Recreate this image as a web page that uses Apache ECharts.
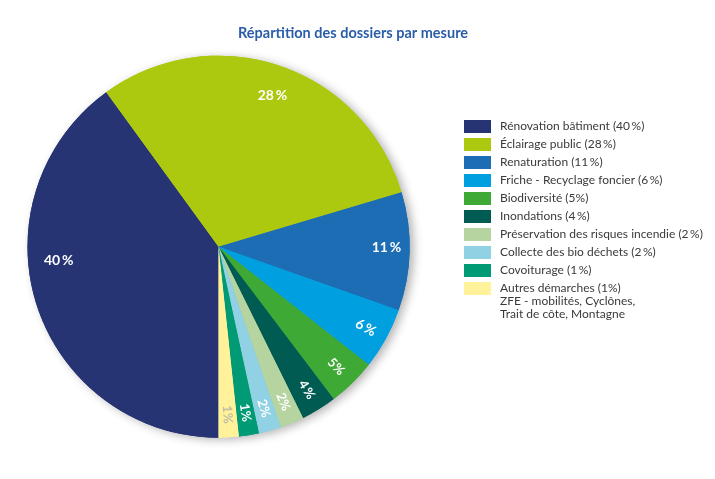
<!DOCTYPE html>
<html>
<head>
<meta charset="utf-8">
<script src="https://cdn.jsdelivr.net/npm/echarts@6/dist/echarts.min.js"></script>
<style>html,body{margin:0;padding:0;background:#fff;}#c{width:715px;height:479px;}</style>
</head>
<body>
<div id="c"></div>
<script>
const categories = ['Rénovation bâtiment', 'Éclairage public', 'Renaturation', 'Friche - Recyclage foncier', 'Biodiversité', 'Inondations', 'Préservation des risques incendie', 'Collecte des bio déchets', 'Covoiturage', 'Autres démarches'];
const values = [40, 30.4, 10, 5.2, 4.1, 3.0, 2.0, 1.9, 1.7, 1.7];
const pieLabels = ['40\u2009%', '28\u2009%', '11\u2009%', '6\u2009%', '5%', '4\u2009%', '2%', '2%', '1%', '1%'];
const legendPercents = ['40\u2009%', '28\u2009%', '11\u2009%', '6\u2009%', '5%', '4\u2009%', '2\u2009%', '2\u2009%', '1\u2009%', '1%'];
const colors = ['#263474', '#adc90f', '#1d6db5', '#009fe0', '#3eaa35', '#005b53', '#b5d4a0', '#90d1e3', '#009b74', '#fff29a'];
const labelColors = ['#fff', '#fff', '#fff', '#fff', '#fff', '#fff', '#fff', '#fff', '#fff', '#c2bfa6'];
const radialLabel = [false, false, false, true, true, true, true, true, true, true];
// vertical nudge of a label (negative = up), done with an empty rich-text spacer line
const labelNudge = [-38, 8, -3, 0, 0, 0, 0, 0, 0, 0];
const autresNote = 'ZFE - mobilités, Cyclônes,\nTrait de côte, Montagne';

const FONT = 'Lato, "Open Sans", sans-serif';
const chart = echarts.init(document.getElementById('c'));
const center = [218.5, 246.7];

const baseData = categories.map((n, i) => ({ name: n, value: values[i], itemStyle: { color: colors[i] } }));
const legendMap = {};
categories.forEach((n, i) => legendMap[n] = n + ' (' + legendPercents[i] + ')');

function labelText(i) {
  const n = labelNudge[i];
  if (n < 0) return '{t|' + pieLabels[i] + '}\n{s|\u00a0}';
  if (n > 0) return '{s|\u00a0}\n{t|' + pieLabels[i] + '}';
  return '{t|' + pieLabels[i] + '}';
}

chart.setOption({
  animation: false,
  color: colors,
  title: [
    { text: 'Répartition des dossiers par mesure', left: 238, top: 26, padding: 0,
      textStyle: { fontFamily: FONT, fontSize: 14.5, fontWeight: 'bold', color: '#2a5ea8' } },
    { text: autresNote, left: 500, top: 295, padding: 0,
      textStyle: { fontFamily: FONT, fontSize: 12, fontWeight: 'normal', color: '#3a3a3a', lineHeight: 13 } }
  ],
  legend: {
    orient: 'vertical', left: 464, top: 120, padding: 0,
    itemWidth: 27, itemHeight: 13, itemGap: 5,
    icon: 'rect',
    data: categories,
    formatter: n => legendMap[n],
    textStyle: { fontFamily: FONT, fontSize: 12, color: '#3a3a3a', padding: [0, 0, 0, 4] }
  },
  series: [
    {
      type: 'pie', silent: true, z: 1,
      center: center, radius: 191, startAngle: -90, clockwise: true,
      label: { show: false }, labelLine: { show: false },
      itemStyle: { shadowBlur: 10, shadowColor: 'rgba(0,0,0,0.3)', shadowOffsetX: 4, shadowOffsetY: 2 },
      data: baseData
    },
    {
      type: 'pie', silent: true, z: 2,
      center: center, radius: 191, startAngle: -90, clockwise: true,
      label: { show: false }, labelLine: { show: false },
      data: baseData
    },
    {
      type: 'pie', silent: true, z: 3,
      center: center, radius: [144, 186], startAngle: -90, clockwise: true,
      avoidLabelOverlap: false, legendHoverLink: false,
      labelLine: { show: false },
      itemStyle: { color: 'rgba(0,0,0,0)' },
      data: categories.map((n, i) => {
        const fs = i < 4 ? 14 : 13;
        return {
          name: n, value: values[i],
          itemStyle: { color: 'rgba(0,0,0,0)' },
          label: {
            show: true, position: 'inside',
            formatter: labelText(i),
            rotate: radialLabel[i] ? 'radial' : 0,
            rich: {
              t: { color: labelColors[i], fontFamily: FONT, fontWeight: 'bold', fontSize: fs, lineHeight: 16 },
              s: { fontSize: 1, lineHeight: Math.max(1, 16 + 2 * Math.abs(labelNudge[i]) - 16) }
            }
          }
        };
      })
    }
  ]
});
</script>
</body>
</html>
